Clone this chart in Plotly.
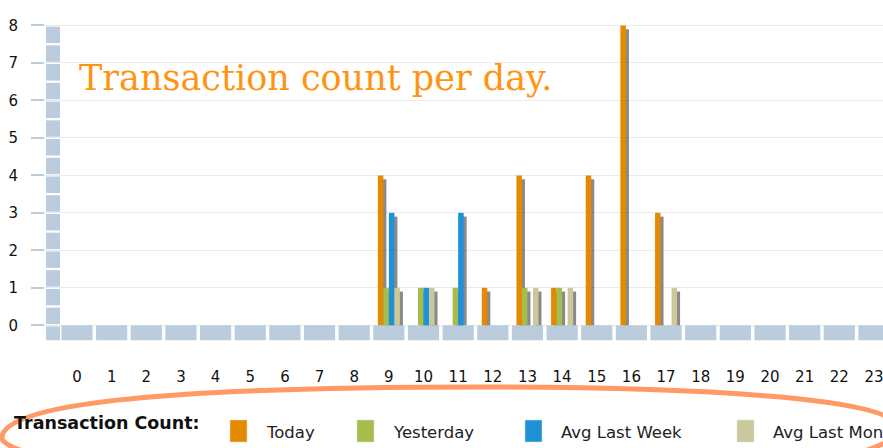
import plotly.graph_objects as go

# ---------------- data ----------------
hours = list(range(24))
hour_labels = [str(h) for h in hours]
series_names = ["Today", "Yesterday", "Avg Last Week", "Avg Last Month"]
today = [0, 0, 0, 0, 0, 0, 0, 0, 0, 4, 0, 0, 1, 4, 1, 4, 8, 3, 0, 0, 0, 0, 0, 0]
yesterday = [0, 0, 0, 0, 0, 0, 0, 0, 0, 1, 1, 1, 0, 1, 1, 0, 0, 0, 0, 0, 0, 0, 0, 0]
avg_last_week = [0, 0, 0, 0, 0, 0, 0, 0, 0, 3, 1, 3, 0, 0, 0, 0, 0, 0, 0, 0, 0, 0, 0, 0]
avg_last_month = [0, 0, 0, 0, 0, 0, 0, 0, 0, 1, 1, 0, 0, 1, 1, 0, 0, 1, 0, 0, 0, 0, 0, 0]
y_ticks = [0, 1, 2, 3, 4, 5, 6, 7, 8]
legend_title = "Transaction Count:"
chart_title = "Transaction count per day."

# ---------------- styling ----------------
W, H = 883, 448
ML, MR, MT, MB = 45, 0, 18, 104
colors = ["#E58A00", "#A5BD4B", "#1E91D9", "#C9C99C"]
floor_color = "#BBCCDD"
bar_w = 0.159
x_range = [-0.9235, 23.261]
y_range = [-0.5, 8.2]

pw, ph = W - ML - MR, H - MT - MB


def px_x(p):
    return (p - ML) / pw


def px_y(p):
    return (H - MB - p) / ph


values = [today, yesterday, avg_last_week, avg_last_month]
fig = go.Figure()

# floor blocks (3D-style axis base)
fig.add_trace(go.Bar(x=hours, y=[0.4] * len(hours), base=-0.4, width=0.9,
                     marker=dict(color=floor_color, line=dict(width=0)),
                     showlegend=False, hoverinfo="skip"))

offsets = [-2 * bar_w + i * bar_w for i in range(4)]
# shadows
for i, vals in enumerate(values):
    fig.add_trace(go.Bar(x=hours, y=[max(v - 0.1, 0) for v in vals],
                         offset=offsets[i] + 0.087, width=bar_w,
                         marker=dict(color="rgba(60,60,60,0.6)", line=dict(width=0)),
                         showlegend=False, hoverinfo="skip"))
# bars
for i, vals in enumerate(values):
    fig.add_trace(go.Bar(x=hours, y=vals, name=series_names[i],
                         offset=offsets[i], width=bar_w,
                         marker=dict(color=colors[i], line=dict(width=0)),
                         showlegend=False))

shapes = []
# left wall blocks
wall_x0, wall_x1 = -0.895, -0.49
shapes.append(dict(type="rect", xref="x", yref="y", x0=wall_x0, x1=wall_x1,
                   y0=-0.4, y1=-0.03, fillcolor=floor_color, line=dict(width=0),
                   layer="above"))
for k in range(16):
    shapes.append(dict(type="rect", xref="x", yref="y", x0=wall_x0, x1=wall_x1,
                       y0=k * 0.5 + 0.03, y1=(k + 1) * 0.5 - 0.03,
                       fillcolor=floor_color, line=dict(width=0), layer="above"))

annotations = []
# title
annotations.append(dict(text=chart_title, xref="paper", yref="paper",
                        x=px_x(77), y=px_y(78), xanchor="left", yanchor="middle",
                        showarrow=False,
                        font=dict(family="DejaVu Serif", size=35, color="#FF9412")))

# custom legend
annotations.append(dict(text="<b>" + legend_title + "</b>", xref="paper", yref="paper",
                        x=px_x(12), y=px_y(423), xanchor="left", yanchor="middle",
                        showarrow=False,
                        font=dict(family="DejaVu Sans", size=17.5, color="#111111")))
swatch_x = [230, 357, 525, 737]
for i, name in enumerate(series_names):
    sx = swatch_x[i]
    shapes.append(dict(type="rect", xref="paper", yref="paper",
                       x0=px_x(sx), x1=px_x(sx + 17), y0=px_y(420), y1=px_y(442),
                       fillcolor=colors[i], line=dict(width=0.5, color="#dddddd")))
    annotations.append(dict(text=name, xref="paper", yref="paper",
                            x=px_x(sx + 34), y=px_y(432), xanchor="left",
                            yanchor="middle", showarrow=False,
                            font=dict(family="DejaVu Sans", size=16.5, color="#222222")))


# highlight ellipse around legend (decoration)
def P(x, y):
    return f"{px_x(x):.5f},{px_y(y):.5f}"


path = ("M " + P(2, 438) +
        " C " + P(2, 405) + " " + P(150, 387) + " " + P(480, 387) +
        " C " + P(700, 387) + " " + P(898, 398) + " " + P(898, 428) +
        " C " + P(898, 470) + " " + P(600, 490) + " " + P(450, 490) +
        " C " + P(150, 490) + " " + P(2, 455) + " " + P(2, 438) + " Z")
shapes.append(dict(type="path", xref="paper", yref="paper", path=path,
                   line=dict(color="#FF9966", width=5), fillcolor="rgba(0,0,0,0)",
                   layer="above"))

fig.update_layout(
    width=W, height=H,
    margin=dict(l=ML, r=MR, t=MT, b=MB, pad=0, autoexpand=False),
    paper_bgcolor="white", plot_bgcolor="white",
    barmode="overlay",
    showlegend=False,
    shapes=shapes,
    annotations=annotations,
    xaxis=dict(range=x_range, tickmode="array", tickvals=hours, ticktext=hour_labels,
               ticks="", showgrid=False, zeroline=False, showline=False,
               ticklabelstandoff=22, ticklabeloverflow="allow",
               tickfont=dict(family="DejaVu Sans", size=15, color="#111111")),
    yaxis=dict(range=y_range, tickmode="array", tickvals=y_ticks,
               ticktext=[str(v) for v in y_ticks],
               ticks="outside", ticklen=13, tickcolor=floor_color, tickwidth=1.5,
               showgrid=True, gridcolor="#EBEBEB", gridwidth=1,
               zeroline=False, showline=False, ticklabelstandoff=10,
               tickfont=dict(family="DejaVu Sans", size=15, color="#111111")),
)

fig.write_html("out.html",
               config={"displayModeBar": False},
               post_script="document.body.style.margin='0';"
                           "document.body.style.overflow='hidden';")
